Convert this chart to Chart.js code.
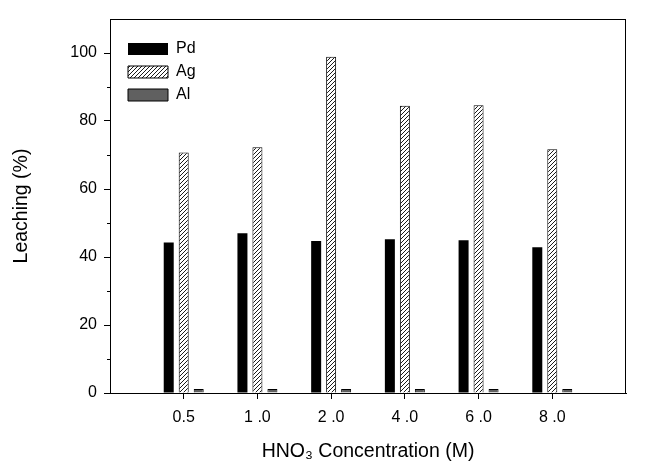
<!DOCTYPE html>
<html>
<head>
<meta charset="utf-8">
<script src="https://cdn.jsdelivr.net/npm/chart.js@4"></script>
<style>
  body { margin: 0; background: #fff; }
  #wrap { width: 650px; height: 474px; }
</style>
</head>
<body>
<div id="wrap"><canvas id="leachChart" width="650" height="474"></canvas></div>
<script>
// HNO3 concentration (M) and leaching (%)
const concentrations = ['0.5', '1 .0', '2 .0', '4 .0', '6 .0', '8 .0'];
const pdLeaching = [44.3, 47.0, 44.7, 45.2, 44.9, 42.9];
const agLeaching = [70.7, 72.3, 98.9, 84.5, 84.6, 71.7];
const alLeaching = [1.2, 1.2, 1.2, 1.2, 1.2, 1.2];
const yTicks = [0, 20, 40, 60, 80, 100];

const ctx = document.getElementById('leachChart').getContext('2d');

// empty slot on each side, so the six groups sit like the original axis
const labels = ['', ...concentrations, ''];
const pad = arr => [null, ...arr, null];

function makeHatch() {
    const c = document.createElement('canvas');
    c.width = 4;
    c.height = 4;
    const g = c.getContext('2d');
    g.fillStyle = '#fff';
    g.fillRect(0, 0, 4, 4);
    g.strokeStyle = '#1a1a1a';
    g.lineWidth = 1;
    g.beginPath();
    g.moveTo(0, 4); g.lineTo(4, 0);
    g.moveTo(-1, 1); g.lineTo(1, -1);
    g.moveTo(3, 5); g.lineTo(5, 3);
    g.stroke();
    return ctx.createPattern(c, 'repeat');
}

Chart.defaults.font.family = '"Liberation Sans", Arial, sans-serif';
Chart.defaults.font.size = 16;
Chart.defaults.color = '#000';

// frame around the plot + short minor ticks on y
const framePlugin = {
    id: 'frame',
    afterLayout(chart) {
        // move the legend in from the plot corner
        chart.legend.left += 11;
        chart.legend.top += 14;
    },
    afterDraw(chart) {
        const a = chart.chartArea;
        const c = chart.ctx;
        const y = chart.scales.y;
        c.save();
        c.strokeStyle = '#000';
        c.lineWidth = 1;
        c.strokeRect(Math.round(a.left) + 0.5, Math.round(a.top) + 0.5,
            Math.round(a.right - a.left) - 1, Math.round(a.bottom - a.top));
        c.beginPath();
        [10, 30, 50, 70, 90].forEach(v => {
            const py = Math.round(y.getPixelForValue(v)) + 0.5;
            c.moveTo(a.left - 3, py);
            c.lineTo(a.left, py);
        });
        c.stroke();
        c.restore();
    }
};

new Chart(ctx, {
    type: 'bar',
    data: {
        labels: labels,
        datasets: [
            {
                label: 'Pd',
                data: pad(pdLeaching),
                backgroundColor: '#000',
                borderWidth: 0
            },
            {
                label: 'Ag',
                data: pad(agLeaching),
                backgroundColor: makeHatch(),
                borderColor: '#000',
                borderWidth: 1
            },
            {
                label: 'Al',
                data: pad(alLeaching),
                backgroundColor: '#606060',
                borderColor: '#000',
                borderWidth: 1
            }
        ]
    },
    options: {
        responsive: false,
        animation: false,
        devicePixelRatio: 1,
        categoryPercentage: 0.61,
        barPercentage: 0.667,
        layout: { padding: { left: 0, right: 24, top: 19, bottom: 0 } },
        plugins: {
            legend: {
                position: 'chartArea',
                align: 'start',
                // empty title only used as a spacer above the items
                title: { display: true, text: '', font: { size: 10 }, padding: { top: 8, bottom: 0 } },
                labels: {
                    boxWidth: 40,
                    boxHeight: 12,
                    padding: 7,
                    font: { size: 16 }
                }
            },
            tooltip: { enabled: false }
        },
        scales: {
            x: {
                offset: false,
                grid: {
                    offset: false,
                    drawOnChartArea: false,
                    tickLength: 6,
                    tickColor: c => (c.index === 0 || c.index === labels.length - 1) ? 'transparent' : '#000'
                },
                border: { color: '#000', width: 1 },
                ticks: { autoSkip: false, maxRotation: 0, padding: 9, font: { size: 16 } },
                title: {
                    display: true,
                    text: 'HNO\u2083 Concentration (M)',
                    font: { size: 19.5 },
                    padding: { top: 0, bottom: 11 }
                },
                afterFit: s => { s.height = 81; }
            },
            y: {
                min: 0,
                max: 110,
                ticks: {
                    stepSize: 10,
                    padding: 7,
                    font: { size: 16 },
                    callback: v => yTicks.includes(v) ? v : ''
                },
                grid: {
                    drawOnChartArea: false,
                    tickLength: 6,
                    tickColor: c => yTicks.includes(c.tick.value) ? '#000' : 'transparent'
                },
                border: { color: '#000', width: 1 },
                title: {
                    display: true,
                    text: 'Leaching (%)',
                    font: { size: 19.5 },
                    padding: { top: 10, bottom: 0 }
                },
                afterFit: s => { s.width = 110; }
            }
        }
    },
    plugins: [framePlugin]
});
</script>
</body>
</html>
